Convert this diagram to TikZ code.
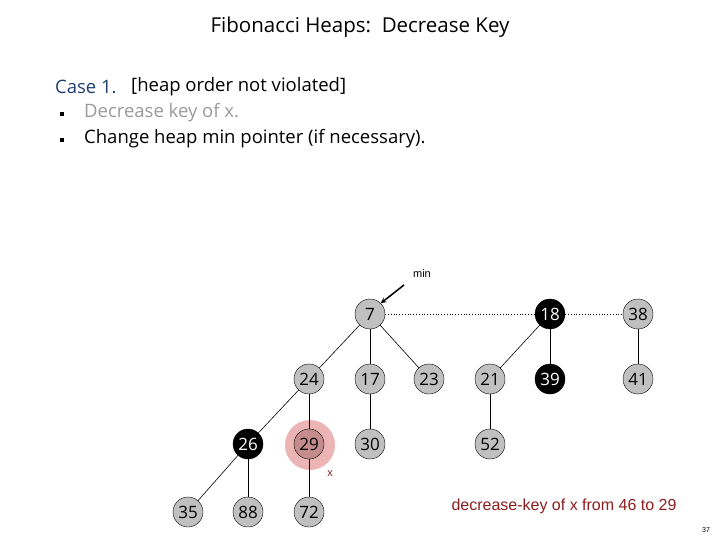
\documentclass[tikz,border=0pt]{standalone}
\usepackage{fontspec}
\setmainfont{Open Sans}
\newfontfamily\arialf{Liberation Sans}
\definecolor{ngray}{RGB}{192,192,192}
\definecolor{caseblue}{RGB}{31,63,111}
\definecolor{dred}{RGB}{140,30,30}
\definecolor{blob}{RGB}{236,180,180}
\definecolor{xnode}{RGB}{196,140,140}
\begin{document}
\begin{tikzpicture}[x=1pt,y=-1pt,
  nd/.style={circle,draw=black,fill=ngray,minimum size=30pt,inner sep=0pt,font=\fontsize{17}{17}\selectfont},
  bk/.style={nd,fill=black,text=white},
  edge/.style={draw=black,line width=0.6pt}]
\useasboundingbox (0,0) rectangle (720,540);
\node (title) at (360,27) {\fontsize{20.5}{24}\selectfont Fibonacci Heaps:\ \ Decrease Key};
\node[anchor=west,text=caseblue,inner sep=0pt] (c1) at (55,87) {\fontsize{18.5}{22}\selectfont Case 1.};
\node[anchor=west,inner sep=0pt] (c1b) at (131,87) {\fontsize{18.5}{22}\selectfont [heap order not violated]};
\node[fill=black,minimum size=3.5pt,inner sep=0pt] (b1) at (62,114) {};
\node[fill=black,minimum size=3.5pt,inner sep=0pt] (b2) at (62,140) {};
\node[anchor=west,text=ngray!80!black,inner sep=0pt] (l1) at (84,113) {\fontsize{18.5}{22}\selectfont Decrease key of x.};
\node[anchor=west,inner sep=0pt] (l2) at (84,139) {\fontsize{18.5}{22}\selectfont Change heap min pointer (if necessary).};
\fill[blob] (310,445) circle (25);
\node[nd] (n7) at (370,314) {7};
\node[bk] (n18) at (550,314) {18};
\node[nd] (n38) at (638,314) {38};
\node[nd] (n24) at (309,379) {24};
\node[nd] (n17) at (370,379) {17};
\node[nd] (n23) at (429,379) {23};
\node[nd] (n21) at (490,379) {21};
\node[bk] (n39) at (550,379) {39};
\node[nd] (n41) at (638,379) {41};
\node[bk] (n26) at (248,444) {26};
\node[nd,fill=xnode] (n29) at (309,444) {29};
\node[nd] (n30) at (370,444) {30};
\node[nd] (n52) at (490,444) {52};
\node[nd] (n35) at (188,512) {35};
\node[nd] (n88) at (248,512) {88};
\node[nd] (n72) at (309,512) {72};
\draw[dotted,line width=0.8pt] (n7) -- (n18) -- (n38);
\foreach \a/\b in {n7/n24,n7/n17,n7/n23,n18/n21,n18/n39,n38/n41,n24/n26,n24/n29,n17/n30,n21/n52,n26/n35,n26/n88,n29/n72}
  \draw[edge] (\a) -- (\b);
\node (minl) at (422,274) {\arialf\fontsize{11}{13}\selectfont min};
\coordinate (mt) at (404,285);
\draw[line width=1.5pt,-stealth] (mt) -- (n7.north east);
\node[text=dred] (xl) at (330,474) {\arialf\fontsize{11}{13}\selectfont x};
\node[text=dred] (cap) at (564,506) {\arialf\fontsize{16}{18}\selectfont decrease-key of x from 46 to 29};
\node (pg) at (706,530) {\arialf\fontsize{7}{8}\selectfont 37};
\end{tikzpicture}
\end{document}
